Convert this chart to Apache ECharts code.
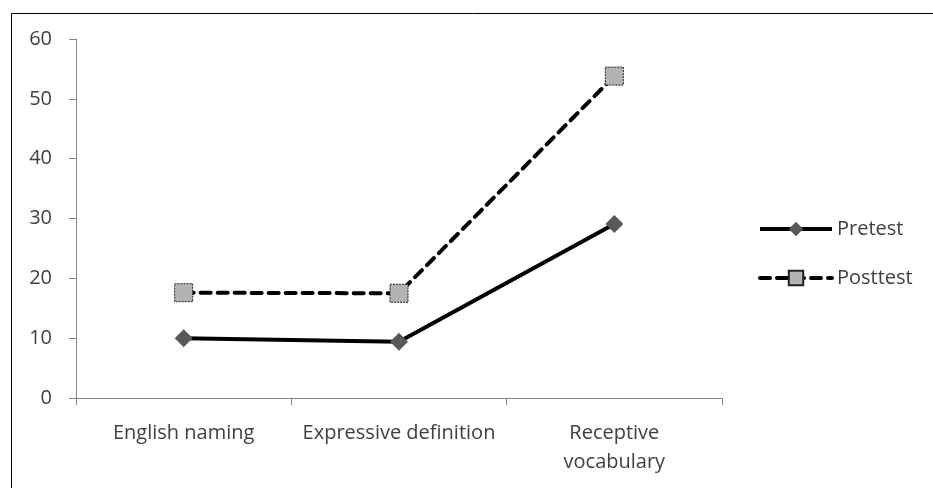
<!DOCTYPE html>
<html><head><meta charset="utf-8">
<script src="https://cdn.jsdelivr.net/npm/echarts@6/dist/echarts.min.js"></script>
<style>html,body{margin:0;padding:0;background:#fff}#c{width:933px;height:488px}</style>
</head><body><div id="c"></div>
<script>
var categories = ['English naming', 'Expressive definition', 'Receptive\nvocabulary'];
var pretest = [10.0, 9.4, 29.1];
var posttest = [17.6, 17.5, 53.8];
var yTicks = [0, 10, 20, 30, 40, 50, 60];

var chart = echarts.init(document.getElementById('c'));
var font = 'Open Sans';
var txt = '#404040';
var fs = 20;
chart.setOption({
  animation: false,
  backgroundColor: '#fff',
  graphic: [{type: 'rect', shape: {x: 11.5, y: 13.5, width: 930, height: 490}, style: {fill: 'none', stroke: '#000', lineWidth: 1}}],
  grid: {left: 76, right: 211, top: 39, bottom: 90},
  legend: {
    orient: 'vertical', left: 758, top: 219, padding: 0, itemWidth: 72, itemHeight: 18, itemGap: 29,
    textStyle: {fontFamily: font, fontSize: fs, color: txt},
    data: [
      {name: 'Pretest', lineStyle: {width: 4}},
      {name: 'Posttest', lineStyle: {width: 4}}
    ]
  },
  xAxis: {
    type: 'category', data: categories, boundaryGap: true,
    axisLine: {lineStyle: {color: '#868686', width: 1}},
    axisTick: {show: true, length: 7, lineStyle: {color: '#868686'}},
    axisLabel: {fontFamily: font, fontSize: fs, color: txt, margin: 21, lineHeight: 29, interval: 0}
  },
  yAxis: {
    type: 'value', min: yTicks[0], max: yTicks[yTicks.length - 1], interval: 10,
    axisLine: {show: true, lineStyle: {color: '#868686', width: 1}},
    axisTick: {show: true, length: 7, lineStyle: {color: '#868686'}},
    splitLine: {show: false},
    axisLabel: {fontFamily: font, fontSize: fs, color: txt, margin: 24}
  },
  series: [
    {name: 'Pretest', type: 'line', data: pretest, symbol: 'diamond', symbolSize: 18,
     lineStyle: {color: '#000', width: 4},
     itemStyle: {color: '#595959', borderColor: '#595959', borderWidth: 0}},
    {name: 'Posttest', type: 'line', data: posttest, symbol: 'rect', symbolSize: 18,
     lineStyle: {color: '#000', width: 4, type: [10, 7], cap: 'round'},
     itemStyle: {color: '#b3b3b3', borderColor: '#222', borderWidth: 1, borderType: [2, 1]}}
  ]
});
</script></body></html>
